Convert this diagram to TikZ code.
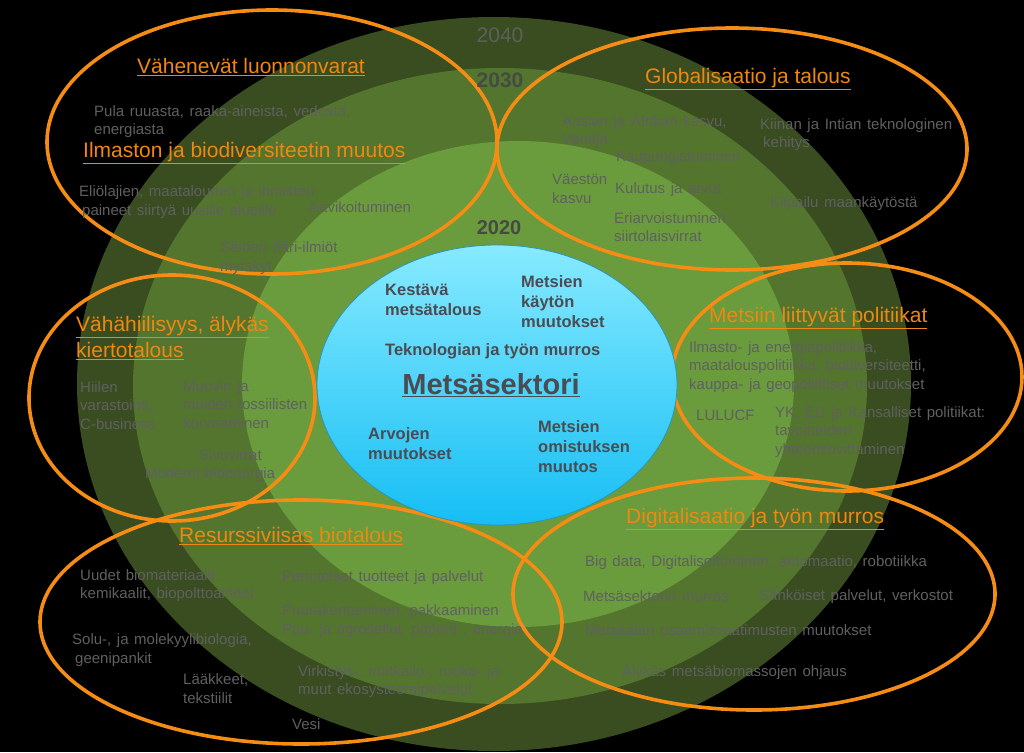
\documentclass[tikz,border=0pt]{standalone}
\usepackage{fontspec}
\setmainfont{Liberation Sans}
\definecolor{g40}{RGB}{57,77,32}
\definecolor{g30}{RGB}{84,117,46}
\definecolor{g20}{RGB}{106,155,61}
\definecolor{orng}{RGB}{245,140,20}
\definecolor{ttlc}{RGB}{238,136,16}
\definecolor{txtgray}{RGB}{96,96,96}
\definecolor{ctxt}{RGB}{75,76,82}
\definecolor{cyantop}{RGB}{135,234,255}
\definecolor{cyanbot}{RGB}{22,190,244}
\definecolor{cyanedge}{RGB}{40,150,190}
\definecolor{yr}{RGB}{92,96,90}
\definecolor{yrb}{RGB}{70,74,68}
\newcommand{\gtfontsel}{\fontsize{15}{18.5}\selectfont\spaceskip=5.6pt\relax}
\tikzset{
  gt/.style={text=txtgray, font=\gtfontsel, align=left, anchor=west, inner sep=0pt},
  ttl/.style={text=ttlc, font=\fontsize{21}{26}\selectfont, align=left, anchor=west, inner sep=0pt},
  ct/.style={text=ctxt, font=\bfseries\fontsize{16.5}{20}\selectfont, align=left, anchor=west, inner sep=0pt},
  oell/.style={draw=orng, line width=3.6pt},
}
\begin{document}
\begin{tikzpicture}[x=1pt,y=-1pt]
\useasboundingbox (0,0) rectangle (1024,752);
\fill[black] (0,0) rectangle (1024,752);
% green time rings
\fill[g40] (494,384) ellipse [x radius=417pt, y radius=367pt];
\fill[g30] (500,386) ellipse [x radius=367pt, y radius=318pt];
\fill[g20] (518,384) ellipse [x radius=276pt, y radius=243pt];
% orange driver ellipses
\draw[oell] (272,142) ellipse [x radius=225pt, y radius=132pt];
\draw[oell] (732,149) ellipse [x radius=235pt, y radius=121pt];
\draw[oell] (172,398) ellipse [x radius=143pt, y radius=123pt];
\draw[oell] (847,377) ellipse [x radius=175pt, y radius=114pt];
\draw[oell] (301,622) ellipse [x radius=261pt, y radius=122pt];
\draw[oell] (754,594) ellipse [x radius=241pt, y radius=116pt];
% central ellipse
\shade[top color=cyantop, bottom color=cyanbot] (497,385) ellipse [x radius=180pt, y radius=140pt];
\draw[cyanedge, line width=0.8pt] (497,385) ellipse [x radius=180pt, y radius=140pt];
% years
\node[text=yr, font=\fontsize{21}{24}\selectfont, inner sep=0pt] (y40) at (500,35) {2040};
\node[text=yrb, font=\bfseries\fontsize{21}{24}\selectfont, inner sep=0pt] (y30) at (500,80) {2030};
\node[text=yrb, font=\bfseries\fontsize{20}{24}\selectfont, inner sep=0pt] (y20) at (499,228) {2020};
% titles
\node[ttl] (t1) at (137,67) {\underline{Vähenevät luonnonvarat}};
\node[ttl] (t2) at (83,153) {\underline{Ilmaston ja biodiversiteetin muutos}};
\node[ttl] (t3) at (645,79) {\underline{Globalisaatio ja talous}};
\node[ttl] (t4) at (76,338) {\underline{Vähähiilisyys, älykäs}\\\underline{kiertotalous}};
\node[ttl] (t5) at (709,318) {\underline{Metsiin liittyvät politiikat}};
\node[ttl] (t6) at (179,536) {\underline{Resurssiviisas biotalous}};
\node[ttl] (t7) at (626,519) {\underline{Digitalisaatio ja työn murros}};
% gray texts
\node[gt] (g1) at (94,121.5) {Pula ruuasta, raaka-aineista, vedestä,\\energiasta};
\node[gt] (g2) at (79,202) {Eliölajien, maatalouden ja ihmisten\\\hspace*{3pt}paineet siirtyä uusille alueille};
\node[gt] (g3) at (309,207) {Aavikoituminen};
\node[gt] (g4) at (220,258) {Säiden ääri-ilmiöt\\myrskyt};
\node[gt] (g5) at (562,131.5) {Aasian ja Afrikan kasvu,\\Venäjä};
\node[gt] (g6) at (760,134.5) {Kiinan ja Intian teknologinen\\\hspace*{3pt}kehitys};
\node[gt] (g7) at (616,158) {Kaupungistuminen};
\node[gt] (g8) at (552,189) {Väestön\\kasvu};
\node[gt] (g9) at (615,190) {Kulutus ja arvot};
\node[gt] (g10) at (614,227) {Eriarvoistuminen,\\siirtolaisvirrat};
\node[gt] (g11) at (770,204) {Kilpailu maankäytöstä};
\node[gt] (g12) at (80,405.5) {Hiilen\\varastointi,\\C-business};
\node[gt] (g13) at (183,404.5) {Muovin ja\\muiden fossiilisten\\korvaaminen};
\node[gt] (g14) at (199,455) {Sivuvirrat};
\node[gt] (g15) at (145,475) {Moderni bioenergia};
\node[gt] (g16) at (689,367) {Ilmasto- ja energiapolitiikka,\\maatalouspolitiikka, biodiversiteetti,\\kauppa- ja geopoliittiset muutokset};
\node[gt] (g17) at (696,415) {LULUCF};
\node[gt] (g18) at (775,432) {YK, EU ja Kansalliset politiikat:\\tavoitteiden\\yhteensovittaminen};
\node[gt] (g19) at (80,585.5) {Uudet biomateriaalit,\\kemikaalit, biopolttoaineet};
\node[gt] (g20) at (282,578) {Perinteiset tuotteet ja palvelut};
\node[gt] (g21) at (282,621) {Puurakentaminen, pakkaaminen\\Puu- ja agrosellut, paperit , energia};
\node[gt] (g22) at (72,650) {Solu-, ja molekyylibiologia,\\\hspace*{3pt}geenipankit};
\node[gt] (g23) at (183,688.5) {Lääkkeet,\\tekstiilit};
\node[gt] (g24) at (298,681.5) {Virkistys-, matkailu-, ruoka- ja\\muut ekosysteemipalvelut};
\node[gt] (g25) at (292,724) {Vesi};
\node[gt] (g26) at (585,563) {Big data, Digitalisoituminen, automaatio, robotiikka};
\node[gt] (g27) at (583,596) {Metsäsektorin murros};
\node[gt] (g28) at (759,597) {Sähköiset palvelut, verkostot};
\node[gt] (g29) at (585,630) {Metsäalan osaamisvaatimusten muutokset};
\node[gt] (g30) at (622,672) {Älykäs metsäbiomassojen ohjaus};
% centre texts
\node[ct] (c1) at (385,300) {Kestävä\\metsätalous};
\node[ct] (c2) at (521,302) {Metsien\\käytön\\muutokset};
\node[ct] (c3) at (385,351) {Teknologian ja työn murros};
\node[text=ctxt, font=\bfseries\fontsize{29}{32}\selectfont, inner sep=0pt] (c4) at (491,385) {\underline{Metsäsektori}};
\node[ct] (c5) at (368,444) {Arvojen\\muutokset};
\node[ct] (c6) at (538,447) {Metsien\\omistuksen\\muutos};
\end{tikzpicture}
\end{document}
